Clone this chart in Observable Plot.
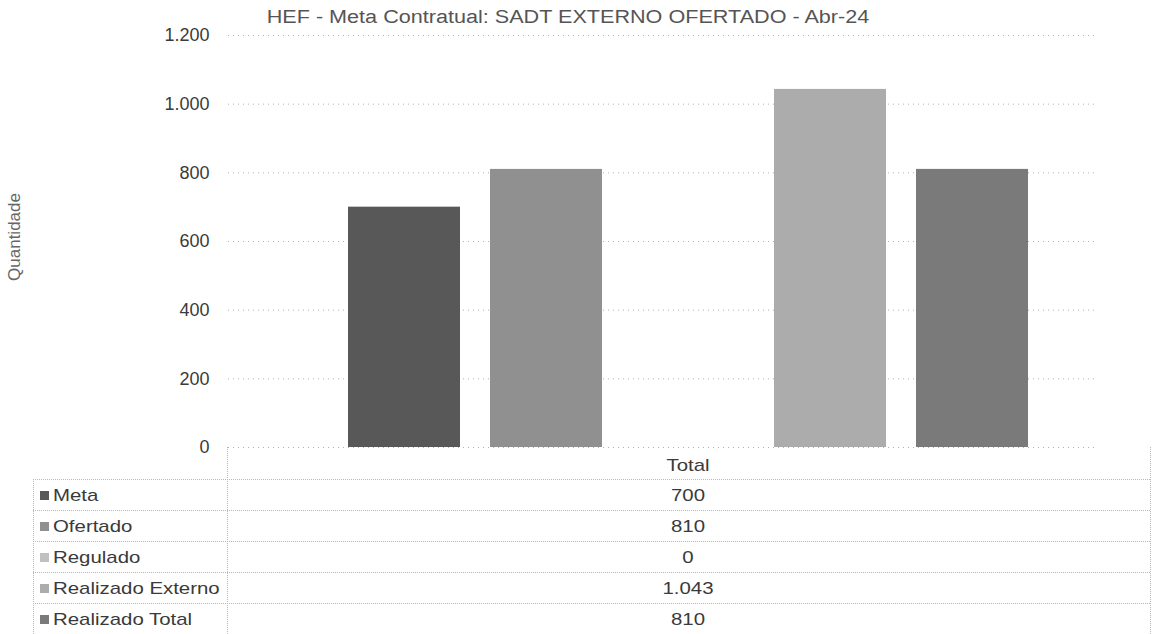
<!DOCTYPE html>
<html><head><meta charset="utf-8">
<script src="https://cdn.jsdelivr.net/npm/d3@7"></script>
<script src="https://cdn.jsdelivr.net/npm/@observablehq/plot@0.6"></script>
<style>
body{margin:0;background:#fff;font-family:"Liberation Sans",Arial,sans-serif;}
#wrap{position:relative;width:1152px;height:634px;overflow:hidden;background:#fff;}
#chart{position:absolute;left:0;top:0;}
.t{position:absolute;white-space:nowrap;color:#3a3a3a;font-size:17px;line-height:1;}
.ln{position:absolute;border-color:#b8b8b8;border-style:dotted;border-width:0;}
</style></head><body><div id="wrap"><div id="chart"></div></div>
<script>
const title = "HEF - Meta Contratual: SADT EXTERNO OFERTADO - Abr-24";
const yLabel = "Quantidade";
const category = "Total";
const series = ["Meta", "Ofertado", "Regulado", "Realizado Externo", "Realizado Total"];
const values = [700, 810, 0, 1043, 810];
const colors = ["#585858", "#909090", "#c0c0c0", "#acacac", "#7a7a7a"];
const yTicks = [0, 200, 400, 600, 800, 1000, 1200];

const loc = d3.formatLocale({decimal: ",", thousands: ".", grouping: [3], currency: ["R$ ", ""]});
const fmt = loc.format(",d");
const data = series.map((s, i) => ({series: s, value: values[i]}));

const chart = Plot.plot({
  width: 1152, height: 460,
  marginTop: 35, marginBottom: 13, marginLeft: 228, marginRight: 55,
  style: {fontFamily: "'Liberation Sans', Arial, sans-serif", fontSize: "18px", color: "#3a3a3a", background: "transparent", overflow: "visible"},
  x: {domain: series, range: [318, 1058], padding: 0.211, axis: null},
  y: {domain: [0, 1200], ticks: 6, tickFormat: fmt, tickSize: 0, tickPadding: 19, label: null},
  color: {domain: series, range: colors},
  marks: [
    Plot.ruleY(yTicks, {stroke: "#b0b0b0", strokeDasharray: "1,4", strokeWidth: 1}),
    Plot.barY(data, {x: "series", y: "value", fill: "series"})
  ]
});
const wrap = document.getElementById("wrap");
document.getElementById("chart").appendChild(chart);

const SX = 1.2;
function addText(txt, x, y, anchor) {
  const d = document.createElement("div");
  d.className = "t";
  d.textContent = txt;
  d.style.left = x + "px";
  d.style.top = y + "px";
  d.style.transformOrigin = (anchor === "middle" ? "50%" : anchor === "end" ? "100%" : "0") + " 50%";
  d.style.transform = "translate(" + (anchor === "middle" ? "-50%" : anchor === "end" ? "-100%" : "0") + ",-50%) scaleX(" + SX + ")";
  wrap.appendChild(d);
  return d;
}
function line(x, y, w, h, side) {
  const d = document.createElement("div");
  d.className = "ln";
  d.style.left = x + "px"; d.style.top = y + "px";
  d.style.width = w + "px"; d.style.height = h + "px";
  d.style["border" + side + "Width"] = "1px";
  wrap.appendChild(d);
}

// title
const tt = addText(title, 568, 17, "middle");
tt.style.color = "#555"; tt.style.fontSize = "18px";
// y label
const yl = document.createElement("div");
yl.className = "t";
yl.textContent = yLabel;
yl.style.cssText += "font-size:17px;color:#666;left:14px;top:237px;transform-origin:0 0;transform:rotate(-90deg) translate(-50%,-50%);";
wrap.appendChild(yl);

// data table
const tLeft = 33, tDiv = 227, tRight = 1150;
const hdrTop = 447, hdrBot = 479, rowH = 31;
const midX = 688;
addText(category, midX, (hdrTop + hdrBot) / 2 + 2, "middle");
line(tDiv, hdrTop, 0, 634 - hdrTop, "Left");
line(tRight, hdrTop, 0, 634 - hdrTop, "Left");
line(tLeft, hdrBot, tRight - tLeft, 0, "Top");
line(tLeft, hdrBot, 0, 634 - hdrBot, "Left");
series.forEach((s, i) => {
  const top = hdrBot + i * rowH;
  const cy = top + rowH / 2;
  if (i > 0) line(tLeft, top, tRight - tLeft, 0, "Top");
  const sw = document.createElement("div");
  sw.style.cssText = "position:absolute;width:9px;height:9px;left:40px;top:" + (cy - 4) + "px;background:" + colors[i];
  wrap.appendChild(sw);
  addText(s, 53, cy, "start");
  addText(fmt(values[i]), midX, cy, "middle");
});
</script></body></html>
